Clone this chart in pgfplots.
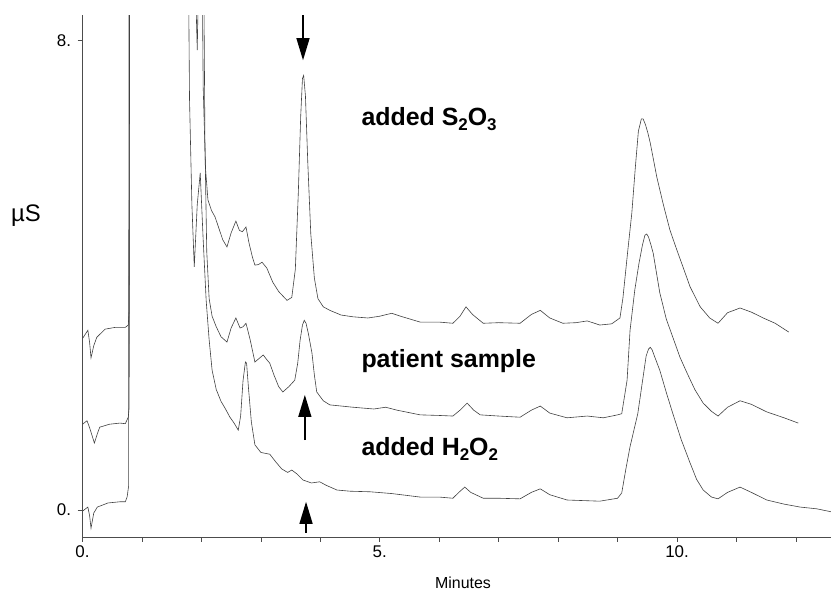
\documentclass[border=0pt]{standalone}
\usepackage{pgfplots}
\pgfplotsset{compat=1.18}
\usepackage{fontspec}
\setmainfont{Liberation Sans}
\usetikzlibrary{arrows.meta}
\newcommand{\sub}[1]{\raisebox{-0.22em}{\fontsize{17}{17}\selectfont #1}}
\begin{document}
\begin{tikzpicture}
\useasboundingbox (-82.5bp,-53bp) rectangle (748.5bp,537bp);
\begin{axis}[name=ax, scale only axis, width=748.5bp, height=522bp,
  xmin=0, xmax=12.59, ymin=-0.46, ymax=8.43,
  axis x line*=bottom, axis y line*=left,
  xtick={0,5,10}, xticklabels={0.,5.,10.},
  minor xtick={1,2,3,4,6,7,8,9,11,12},
  ytick={0,8}, yticklabels={0.,8.},
  tick align=outside,
  tick style={black!70, line width=0.6bp},
  major tick length=5bp, minor tick length=5bp,
  ticklabel style={font=\fontsize{17}{20}\selectfont},
  yticklabel style={xshift=-3bp},
  axis line style={black!70, line width=0.6bp},
  clip mode=individual,
]
% top trace: added S2O3
\addplot[black!75, line width=0.6bp, mark=none] coordinates {
(0,2.92) (0.09,3.06) (0.12,2.85) (0.143,2.59) (0.19,2.80) (0.24,2.94) (0.38,3.08) (0.55,3.11) (0.72,3.11) (0.77,3.15) (0.785,3.40) (0.795,12)
(1.99,12) (2.03,7.2) (2.07,5.8) (2.11,5.28) (2.17,5.10) (2.23,4.99) (2.30,4.78) (2.36,4.60) (2.43,4.48) (2.50,4.72) (2.58,4.92) (2.64,4.76) (2.69,4.74) (2.75,4.82) (2.80,4.55) (2.86,4.30) (2.90,4.17) (2.96,4.18) (3.02,4.22) (3.10,4.12) (3.20,3.88) (3.30,3.72) (3.44,3.57) (3.52,3.62) (3.58,4.10) (3.63,5.40) (3.67,6.70) (3.70,7.35) (3.72,7.40) (3.75,7.05) (3.79,5.90) (3.84,4.70) (3.90,3.95) (3.96,3.60) (4.05,3.46) (4.16,3.40) (4.35,3.32) (4.55,3.29) (4.80,3.27) (5.00,3.30) (5.20,3.35) (5.35,3.30) (5.68,3.20) (6.00,3.20) (6.23,3.18) (6.35,3.30) (6.45,3.46) (6.56,3.33) (6.74,3.18) (7.00,3.19) (7.36,3.18) (7.55,3.33) (7.70,3.40) (7.86,3.27) (8.08,3.18) (8.30,3.19) (8.49,3.22) (8.70,3.15) (8.90,3.17) (9.04,3.27) (9.09,3.61) (9.17,4.40) (9.24,5.06) (9.30,5.85) (9.35,6.45) (9.40,6.66) (9.43,6.66) (9.47,6.56) (9.51,6.42) (9.55,6.25) (9.66,5.67) (9.77,5.20) (9.88,4.77) (10.00,4.42) (10.10,4.14) (10.22,3.80) (10.39,3.46) (10.55,3.27) (10.69,3.18) (10.85,3.36) (11.06,3.44) (11.25,3.37) (11.45,3.27) (11.65,3.18) (11.88,3.03)
};
% middle trace: patient sample
\addplot[black!75, line width=0.6bp, mark=none] coordinates {
(0,1.46) (0.076,1.52) (0.12,1.40) (0.20,1.14) (0.25,1.30) (0.29,1.41) (0.45,1.46) (0.63,1.48) (0.72,1.47) (0.77,1.58) (0.785,1.75) (0.795,12)
(1.86,12) (1.90,9.0) (1.93,7.83) (1.96,9.5) (1.98,12) (2.02,12) (2.06,6.2) (2.09,4.4) (2.13,3.60) (2.18,3.30) (2.25,3.12) (2.33,2.95) (2.43,2.86) (2.50,3.10) (2.58,3.27) (2.65,3.10) (2.70,3.12) (2.75,3.18) (2.82,2.90) (2.90,2.52) (2.97,2.58) (3.04,2.64) (3.10,2.56) (3.15,2.50) (3.22,2.30) (3.30,2.10) (3.37,2.01) (3.47,2.10) (3.57,2.21) (3.62,2.50) (3.66,2.89) (3.70,3.15) (3.73,3.23) (3.76,3.18) (3.80,3.00) (3.86,2.67) (3.90,2.30) (3.94,2.01) (4.05,1.86) (4.16,1.79) (4.55,1.75) (4.90,1.72) (5.10,1.75) (5.29,1.70) (5.68,1.62) (6.00,1.61) (6.23,1.60) (6.35,1.70) (6.47,1.82) (6.58,1.70) (6.69,1.62) (7.00,1.60) (7.36,1.58) (7.55,1.70) (7.70,1.77) (7.86,1.65) (8.15,1.57) (8.49,1.60) (8.76,1.57) (9.00,1.62) (9.07,1.64) (9.16,2.21) (9.21,3.06) (9.29,3.75) (9.36,4.20) (9.42,4.52) (9.46,4.68) (9.49,4.70) (9.52,4.65) (9.56,4.52) (9.60,4.37) (9.71,3.70) (9.82,3.25) (9.93,2.94) (10.05,2.60) (10.17,2.33) (10.30,2.05) (10.44,1.82) (10.58,1.68) (10.69,1.60) (10.85,1.75) (11.06,1.86) (11.25,1.80) (11.51,1.67) (11.80,1.57) (12.04,1.48)
};
% bottom trace: added H2O2
\addplot[black!75, line width=0.6bp, mark=none] coordinates {
(0,-0.02) (0.09,0.05) (0.12,-0.10) (0.143,-0.31) (0.19,-0.05) (0.25,0.05) (0.43,0.12) (0.63,0.14) (0.72,0.14) (0.75,0.22) (0.775,0.40) (0.785,12)
(1.76,12) (1.80,7.0) (1.84,5.2) (1.88,4.14) (1.93,5.20) (1.98,5.74) (2.03,4.60) (2.08,3.57) (2.13,2.90) (2.18,2.38) (2.25,2.05) (2.33,1.85) (2.40,1.73) (2.48,1.58) (2.55,1.48) (2.62,1.36) (2.66,1.60) (2.70,2.20) (2.74,2.52) (2.76,2.50) (2.79,2.10) (2.84,1.50) (2.90,1.11) (3.00,0.98) (3.15,0.95) (3.25,0.82) (3.35,0.70) (3.45,0.64) (3.52,0.68) (3.60,0.62) (3.71,0.51) (3.85,0.46) (3.99,0.48) (4.10,0.42) (4.28,0.34) (4.50,0.32) (4.84,0.31) (5.20,0.28) (5.68,0.22) (6.00,0.22) (6.23,0.20) (6.33,0.30) (6.43,0.39) (6.53,0.30) (6.74,0.20) (7.00,0.20) (7.36,0.19) (7.55,0.30) (7.70,0.36) (7.86,0.26) (8.15,0.17) (8.70,0.15) (9.00,0.20) (9.07,0.29) (9.14,0.70) (9.21,1.08) (9.34,1.64) (9.42,2.20) (9.48,2.62) (9.52,2.74) (9.55,2.77) (9.58,2.73) (9.62,2.62) (9.71,2.38) (9.82,2.00) (9.93,1.64) (10.07,1.20) (10.22,0.80) (10.33,0.52) (10.44,0.34) (10.58,0.22) (10.69,0.19) (10.85,0.30) (11.06,0.39) (11.25,0.30) (11.51,0.17) (11.80,0.10) (12.07,0.05) (12.35,0.02) (12.59,-0.03)
};
\node[anchor=base west, font=\fontsize{25}{30}\selectfont\bfseries] at (axis cs:4.634,6.55) {added S\sub{2}O\sub{3}};
\node[anchor=base west, font=\fontsize{25}{30}\selectfont\bfseries] at (axis cs:4.634,2.42) {patient sample};
\node[anchor=base west, font=\fontsize{25}{30}\selectfont\bfseries] at (axis cs:4.634,0.936) {added H\sub{2}O\sub{2}};
\draw[black, line width=1.3bp, -{Triangle[width=13bp,length=22bp]}] (axis cs:3.709,8.43) -- (axis cs:3.709,7.66);
\draw[black, line width=1.3bp, -{Triangle[width=13bp,length=22bp]}] (axis cs:3.74,1.19) -- (axis cs:3.74,1.96);
\draw[black, line width=1.3bp, -{Triangle[width=13bp,length=22bp]}] (axis cs:3.76,-0.39) -- (axis cs:3.76,0.14);
\end{axis}
\node[font=\fontsize{24}{28}\selectfont] at ([xshift=-56.5bp,yshift=321bp]ax.south west) {µS};
\node[anchor=base, font=\fontsize{16}{19}\selectfont] at ([xshift=380.5bp,yshift=-51bp]ax.south west) {Minutes};
\end{tikzpicture}
\end{document}
